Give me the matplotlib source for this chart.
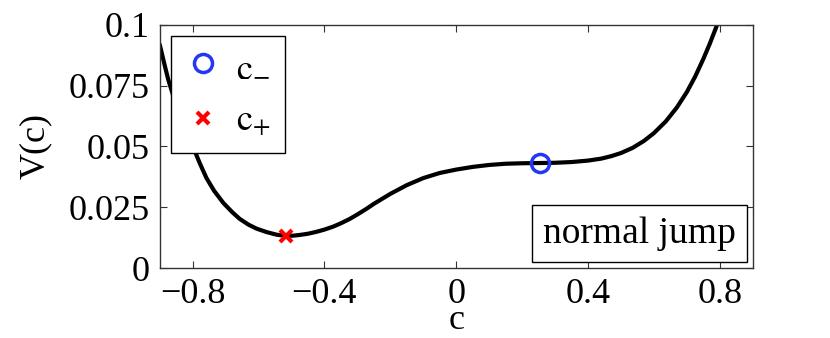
import matplotlib
matplotlib.use("Agg")
import matplotlib.pyplot as plt

plt.rcParams['font.family'] = ['Liberation Serif', 'DejaVu Serif']
plt.rcParams['mathtext.fontset'] = 'stix'

# curve
c = [-0.900, -0.885, -0.874, -0.850, -0.820, -0.795, -0.778, -0.758, -0.735,
     -0.707, -0.680, -0.657, -0.630, -0.606, -0.576, -0.545, -0.517, -0.495,
     -0.475, -0.450, -0.424, -0.400, -0.374, -0.350, -0.323, -0.298, -0.273,
     -0.250, -0.200, -0.150, -0.100, -0.050, 0.000, 0.050, 0.100, 0.150,
     0.200, 0.2555, 0.300, 0.350, 0.400, 0.440, 0.470, 0.500, 0.535, 0.570,
     0.600, 0.636, 0.670, 0.700, 0.725, 0.750, 0.770, 0.790, 0.800]
V = [0.0920, 0.0835, 0.0775, 0.0670, 0.0575, 0.0486, 0.0430, 0.0370, 0.0318,
     0.0268, 0.0230, 0.0202, 0.0178, 0.0162, 0.0148, 0.0137, 0.0132, 0.0133,
     0.0136, 0.0141, 0.0149, 0.0158, 0.0170, 0.0184, 0.0202, 0.0222, 0.0243,
     0.0264, 0.0305, 0.0341, 0.0370, 0.0391, 0.0405, 0.0416, 0.0424, 0.0429,
     0.0431, 0.0432, 0.0433, 0.0436, 0.0442, 0.0450, 0.0460, 0.0473, 0.0494,
     0.0523, 0.0555, 0.0603, 0.0661, 0.0724, 0.0787, 0.0860, 0.0924, 0.0994,
     0.1030]

c_minus, V_minus = 0.2555, 0.0431
c_plus, V_plus = -0.517, 0.0132

xticks = [-0.8, -0.4, 0, 0.4, 0.8]
xticklabels = ['\u22120.8', '\u22120.4', '0', '0.4', '0.8']
yticks = [0, 0.025, 0.05, 0.075, 0.1]
yticklabels = ['0', '0.025', '0.05', '0.075', '0.1']

fig = plt.figure(figsize=(8.3, 3.38), dpi=100)
ax = fig.add_axes([0.1924, 0.2071, 0.7145, 0.719])

ax.plot(c, V, color='black', lw=3, zorder=2, solid_joinstyle='round',
        solid_capstyle='round')
ax.plot(c_minus, V_minus, 'o', ms=13, mfc='none', mec='#2438f2', mew=2.5,
        ls='none', label=r'$\mathrm{c}_{-}$', zorder=3)
ax.plot(c_plus, V_plus, 'x', ms=9, mec='#ff0000', mew=3,
        ls='none', label=r'$\mathrm{c}_{+}$', zorder=3)

ax.set_xlim(-0.9, 0.9)
ax.set_ylim(0, 0.1)
ax.set_xticks(xticks)
ax.set_xticklabels(xticklabels)
ax.set_yticks(yticks)
ax.set_yticklabels(yticklabels)
ax.tick_params(direction='in', length=5, width=0.8, top=True, right=True,
               labelsize=26, pad=7, colors='#333333', labelcolor='black')
for s in ax.spines.values():
    s.set_linewidth(1.0)
    s.set_color('#333333')

ax.set_xlabel('c', fontsize=26, labelpad=-5)
ax.set_ylabel('V(c)', fontsize=26, labelpad=12)

leg = ax.legend(loc='upper left', fontsize=26, frameon=True, fancybox=False,
                framealpha=1, edgecolor='black', borderaxespad=0.3,
                handletextpad=0.4, labelspacing=0.6, borderpad=0.4,
                handlelength=1.0)
leg.get_frame().set_linewidth(1.0)

ax.text(0.972, 0.07, 'normal jump', transform=ax.transAxes, ha='right',
        va='bottom', fontsize=27,
        bbox=dict(boxstyle='square,pad=0.3', fc='white', ec='black', lw=1.0))

fig.savefig('out.png', dpi=100)
